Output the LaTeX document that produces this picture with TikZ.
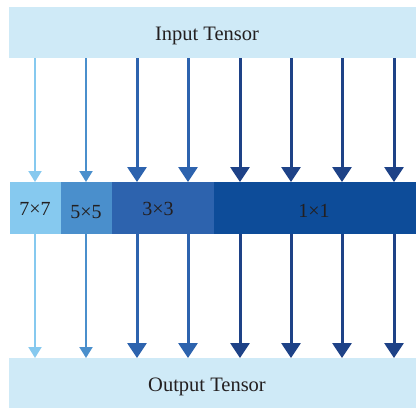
\documentclass[tikz,border=0pt]{standalone}
\usepackage{fontspec}
\setmainfont{Liberation Serif}
\usetikzlibrary{arrows.meta}
\definecolor{boxfill}{HTML}{CFEAF7}
\definecolor{cA}{HTML}{86C9EF}
\definecolor{cB}{HTML}{4A8FCC}
\definecolor{cC}{HTML}{2D63AE}
\definecolor{cD}{HTML}{0D4C99}
\definecolor{aD}{HTML}{1E4287}
\definecolor{txt}{HTML}{231F20}
\tikzset{
  tensor/.style={draw=none, inner sep=0pt, text=txt, font=\fontsize{20.5}{24}\selectfont},
  seg/.style={draw=none, inner sep=0pt, text=txt, font=\fontsize{20}{23}\selectfont},
  thinarr/.style={line width=2pt, -{Triangle[width=13pt,length=11pt]}},
  thickarr/.style={line width=3pt, -{Triangle[width=19pt,length=15pt]}},
}
\begin{document}
\begin{tikzpicture}[x=1pt,y=-1pt]
\useasboundingbox (0,0) rectangle (416,408);
% boxes
\fill[boxfill] (9,7) rectangle (416,58);
\node[tensor] (in) at (207,36) {Input Tensor};
\fill[boxfill] (9,358) rectangle (416,408);
\node[tensor] (out) at (207,387) {Output Tensor};
% segments
\fill[cA] (10,182) rectangle (61,234);
\fill[cB] (61,182) rectangle (112,234);
\fill[cC] (112,182) rectangle (214,234);
\fill[cD] (214,182) rectangle (416,234);
\node[seg] (s7) at (35,209) {7×7};
\node[seg] (s5) at (86,212) {5×5};
\node[seg] (s3) at (158,209) {3×3};
\node[seg] (s1) at (314,211) {1×1};
% arrows
\foreach \x/\c/\st [count=\i] in {35/cA/thinarr, 86/cB/thinarr, 137/cC/thickarr, 188/cC/thickarr, 240/aD/thickarr, 291/aD/thickarr, 342/aD/thickarr, 394/aD/thickarr}{
  \coordinate (t\i) at (\x,58);
  \coordinate (m\i) at (\x,182);
  \coordinate (n\i) at (\x,234);
  \coordinate (b\i) at (\x,358);
  \draw[\st, draw=\c, fill=\c] (t\i) -- (m\i);
  \draw[\st, draw=\c, fill=\c] (n\i) -- (b\i);
}
\end{tikzpicture}
\end{document}
